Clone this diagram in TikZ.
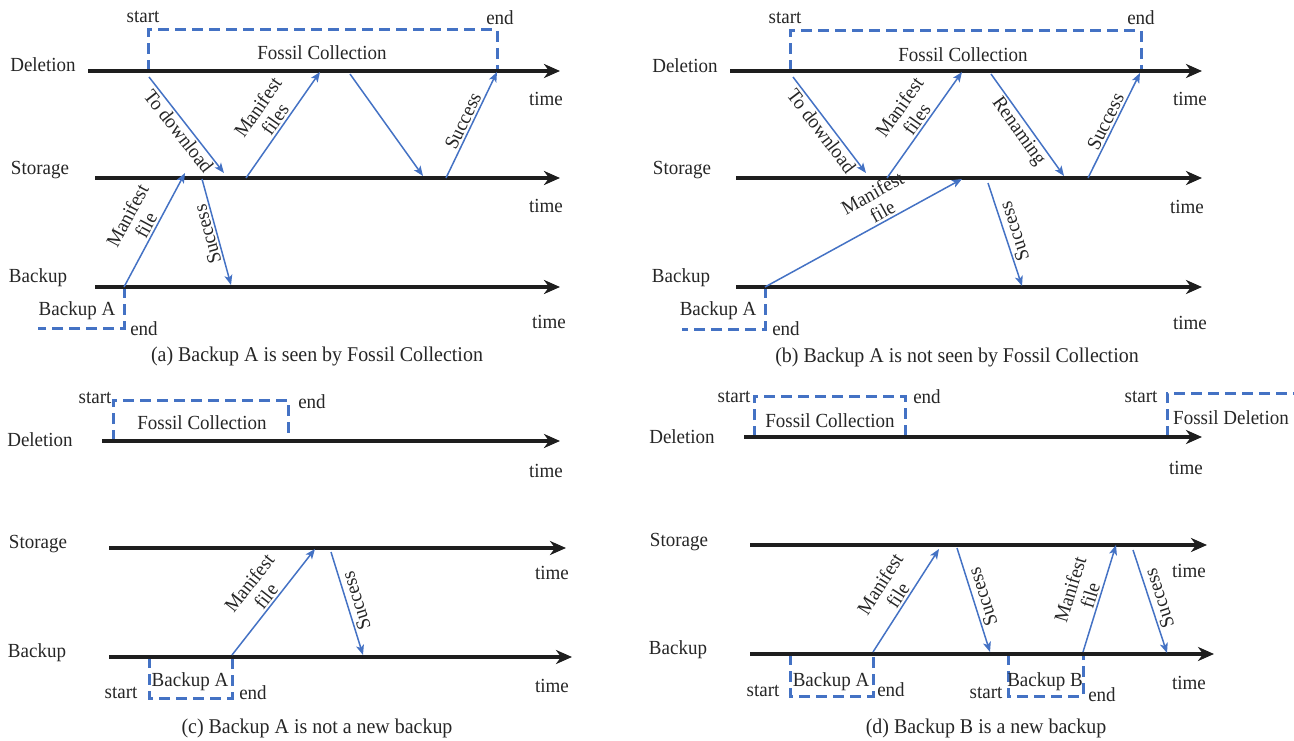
\documentclass[tikz,border=0pt]{standalone}
\usepackage{fontspec}
\setmainfont{Liberation Serif}[FakeStretch=0.95]
\usepackage{tikz}
\usetikzlibrary{arrows.meta,positioning,calc}
\definecolor{msgblue}{RGB}{68,114,196}
\definecolor{axisblack}{RGB}{30,30,30}

\begin{document}
\begin{tikzpicture}[
  x=1pt, y=-1pt,
  font=\fontsize{20}{21}\selectfont,
  lane/.style={inner sep=0pt, text=black!85},
  caption/.style={inner sep=0pt, text=black!85, font=\fontsize{21}{22}\selectfont},
  axis/.style={line width=3.2pt, draw=axisblack, -{Stealth[length=16pt,width=14pt,inset=5pt]}},
  msg/.style={line width=1.5pt, draw=msgblue, -{Stealth[length=10pt,width=8pt,inset=2.5pt]}},
  msgrev/.style={line width=1.5pt, draw=msgblue, {Stealth[length=10pt,width=8pt,inset=2.5pt]}-},
  span/.style={line width=3pt, draw=msgblue, dash pattern=on 11pt off 6pt},
  lbl/.style={midway, sloped, align=center, inner sep=2pt, text=black!85},
]
  \useasboundingbox (0,0) rectangle (1294,741);

  % (a)
  \draw[span] (148,71) coordinate (aFC0) -- ++(0,-41) -| (497,71) coordinate (aFC1);
  \draw[span] (124,287) coordinate (aBA1) -- ++(0,41) -- ++(-86,0);
  \coordinate (aDel0) at (88,71);  \coordinate (aDel1) at (560,71);
  \coordinate (aSto0) at (95,178); \coordinate (aSto1) at (560,178);
  \coordinate (aBak0) at (95,287); \coordinate (aBak1) at (560,287);
  \draw[axis] (aDel0) -- (aDel1);
  \draw[axis] (aSto0) -- (aSto1);
  \draw[axis] (aBak0) -- (aBak1);
  \node[lane] (aDel) at (43,65) {Deletion};
  \node[lane] (aSto) at (40,170) {Storage};
  \node[lane] (aBak) at (38,278) {Backup};
  \node[lane] (aDelT) at (546,99) {time};
  \node[lane] (aStoT) at (546,206) {time};
  \node[lane] (aBakT) at (549,322) {time};
  \node[lane] (aFCs) at (143,17) {start};
  \node[lane] (aFCe) at (500,18) {end};
  \node[lane] (aFC) at (322,53) {Fossil Collection};
  \node[lane] (aBA) at (77,311) {Backup A};
  \node[lane] (aBAe) at (144,329) {end};
  \coordinate (a1) at (149,77);  \coordinate (a2) at (224,173);
  \coordinate (a3) at (185,173); \coordinate (a4) at (202,179);
  \coordinate (a5) at (231,285); \coordinate (a6) at (246,178);
  \coordinate (a7) at (320,72);  \coordinate (a8) at (350,74);
  \coordinate (a9) at (423,176); \coordinate (a10) at (446,178);
  \coordinate (a11) at (497,72);
  \draw[msg] (a1) -- node[lbl, below] {To download} (a2);
  \draw[msg] (aBA1) -- node[lbl, above] {Manifest\\file} (a3);
  \draw[msgrev] (a5) -- node[lbl, allow upside down, above] {Success} (a4);
  \draw[msg] (a6) -- node[lbl, above] {Manifest\\files} (a7);
  \draw[msg] (a8) -- (a9);
  \draw[msg] (a10) -- node[lbl, above] {Success} (a11);
  \node[caption] (aCap) at (317,356) {(a) Backup A is seen by Fossil Collection};

  % (b)
  \draw[span] (790,71) coordinate (bFC0) -- ++(0,-40) -| (1141,71) coordinate (bFC1);
  \draw[span] (765,287) coordinate (bBA1) -- ++(0,42) -- ++(-83,0);
  \coordinate (bDel0) at (730,71);  \coordinate (bDel1) at (1202,71);
  \coordinate (bSto0) at (736,178); \coordinate (bSto1) at (1202,178);
  \coordinate (bBak0) at (736,287); \coordinate (bBak1) at (1202,287);
  \draw[axis] (bDel0) -- (bDel1);
  \draw[axis] (bSto0) -- (bSto1);
  \draw[axis] (bBak0) -- (bBak1);
  \node[lane] (bDel) at (685,66) {Deletion};
  \node[lane] (bSto) at (682,170) {Storage};
  \node[lane] (bBak) at (681,278) {Backup};
  \node[lane] (bDelT) at (1190,99) {time};
  \node[lane] (bStoT) at (1187,207) {time};
  \node[lane] (bBakT) at (1190,323) {time};
  \node[lane] (bFCs) at (785,18) {start};
  \node[lane] (bFCe) at (1141,18) {end};
  \node[lane] (bFC) at (963,55) {Fossil Collection};
  \node[lane] (bBA) at (718,311) {Backup A};
  \node[lane] (bBAe) at (786,329) {end};
  \coordinate (b1) at (793,77);   \coordinate (b2) at (866,173);
  \coordinate (b3) at (887,178);  \coordinate (b4) at (962,72);
  \coordinate (b5) at (991,74);   \coordinate (b6) at (1064,176);
  \coordinate (b7) at (1088,178); \coordinate (b8) at (1140,73);
  \coordinate (b9) at (962,179);  \coordinate (b10) at (988,183);
  \coordinate (b11) at (1022,286);
  \draw[msg] (b1) -- node[lbl, below] {To download} (b2);
  \draw[msg] (b3) -- node[lbl, above] {Manifest\\files} (b4);
  \draw[msg] (b5) -- node[lbl, below] {Renaming} (b6);
  \draw[msg] (b7) -- node[lbl, above] {Success} (b8);
  \draw[msg] (bBA1) -- node[lbl, above, pos=0.62] {Manifest\\file} (b9);
  \draw[msgrev] (b11) -- node[lbl, allow upside down, below] {Success} (b10);
  \node[caption] (bCap) at (957,357) {(b) Backup A is not seen by Fossil Collection};

  % (c)
  \draw[span] (113,441) coordinate (cFC0) -- ++(0,-41) -| (288,441) coordinate (cFC1);
  \draw[span] (149,657) rectangle (232,698);
  \coordinate (cBA1) at (232,655);
  \coordinate (cDel0) at (102,441); \coordinate (cDel1) at (560,441);
  \coordinate (cSto0) at (109,548); \coordinate (cSto1) at (566,548);
  \coordinate (cBak0) at (109,657); \coordinate (cBak1) at (572,657);
  \draw[axis] (cDel0) -- (cDel1);
  \draw[axis] (cSto0) -- (cSto1);
  \draw[axis] (cBak0) -- (cBak1);
  \node[lane] (cDel) at (40,440) {Deletion};
  \node[lane] (cSto) at (38,544) {Storage};
  \node[lane] (cBak) at (37,653) {Backup};
  \node[lane] (cDelT) at (546,471) {time};
  \node[lane] (cStoT) at (552,573) {time};
  \node[lane] (cBakT) at (552,686) {time};
  \node[lane] (cFCs) at (95,398) {start};
  \node[lane] (cFCe) at (312,402) {end};
  \node[lane] (cFC) at (202,423) {Fossil Collection};
  \node[lane] (cBA) at (190,682) {Backup A};
  \node[lane] (cBAs) at (121,693) {start};
  \node[lane] (cBAe) at (253,693) {end};
  \coordinate (c1) at (315,549); \coordinate (c2) at (331,552);
  \coordinate (c3) at (363,655);
  \draw[msg] (cBA1) -- node[lbl, above] {Manifest\\file} (c1);
  \draw[msgrev] (c3) -- node[lbl, allow upside down, below] {Success} (c2);
  \node[caption] (cCap) at (317,728) {(c) Backup A is not a new backup};

  % (d)
  \draw[span] (754,437) coordinate (dFC0) -- ++(0,-41) -| (905,437) coordinate (dFC1);
  \draw[span] (1167,437) coordinate (dFD0) |- (1310,393);
  \draw[span] (790,654) rectangle (873,696);
  \draw[span] (1008,654) rectangle (1083,696);
  \coordinate (dBA1) at (873,652); \coordinate (dBB1) at (1083,652);
  \coordinate (dDel0) at (744,437); \coordinate (dDel1) at (1202,437);
  \coordinate (dSto0) at (750,545); \coordinate (dSto1) at (1207,545);
  \coordinate (dBak0) at (750,654); \coordinate (dBak1) at (1214,654);
  \draw[axis] (dDel0) -- (dDel1);
  \draw[axis] (dSto0) -- (dSto1);
  \draw[axis] (dBak0) -- (dBak1);
  \node[lane] (dDel) at (682,437) {Deletion};
  \node[lane] (dSto) at (679,542) {Storage};
  \node[lane] (dBak) at (678,650) {Backup};
  \node[lane] (dDelT) at (1186,468) {time};
  \node[lane] (dStoT) at (1189,571) {time};
  \node[lane] (dBakT) at (1189,683) {time};
  \node[lane] (dFCs) at (734,397) {start};
  \node[lane] (dFCe) at (927,397) {end};
  \node[lane] (dFC) at (830,421) {Fossil Collection};
  \node[lane] (dFDs) at (1141,397) {start};
  \node[lane] (dFD) at (1231,418) {Fossil Deletion};
  \node[lane] (dBA) at (831,682) {Backup A};
  \node[lane] (dBAs) at (763,691) {start};
  \node[lane] (dBAe) at (891,690) {end};
  \node[lane] (dBB) at (1045,682) {Backup B};
  \node[lane] (dBBs) at (986,693) {start};
  \node[lane] (dBBe) at (1102,695) {end};
  \coordinate (d1) at (939,549);  \coordinate (d2) at (957,548);
  \coordinate (d3) at (990,652);  \coordinate (d4) at (1116,545);
  \coordinate (d5) at (1133,550); \coordinate (d6) at (1167,653);
  \draw[msg] (dBA1) -- node[lbl, above] {Manifest\\file} (d1);
  \draw[msgrev] (d3) -- node[lbl, allow upside down, below] {Success} (d2);
  \draw[msg] (dBB1) -- node[lbl, above] {Manifest\\file} (d4);
  \draw[msgrev] (d6) -- node[lbl, allow upside down, below] {Success} (d5);
  \node[caption] (dCap) at (986,728) {(d) Backup B is a new backup};
\end{tikzpicture}
\end{document}
